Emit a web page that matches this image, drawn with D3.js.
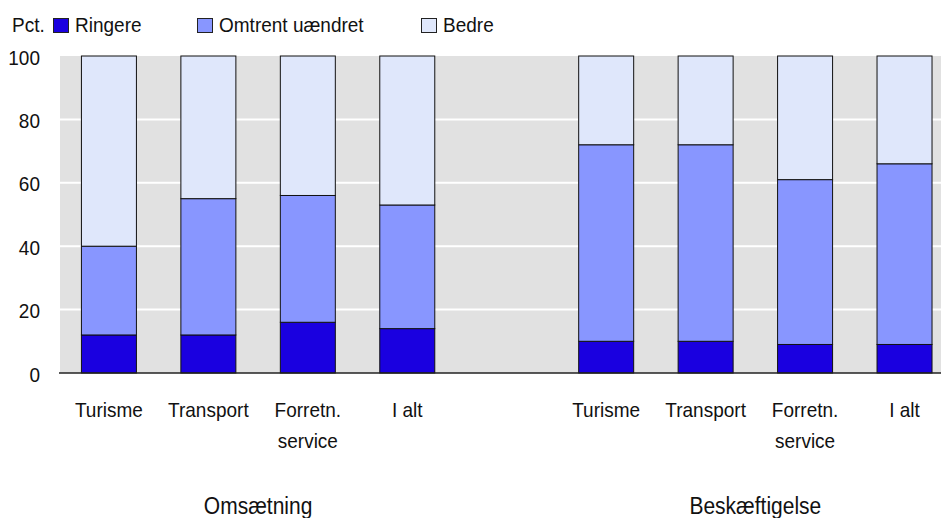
<!DOCTYPE html>
<html>
<head>
<meta charset="utf-8">
<script src="https://cdn.jsdelivr.net/npm/d3@7"></script>
<style>
  body { margin: 0; background: #fff; }
  text { font-family: "Liberation Sans", Arial, sans-serif; font-size: 19px; fill: #111; }
  .group-label { font-size: 21px; }
</style>
</head>
<body>
<div id="chart"></div>
<script>
// Chart data
var groups = ['Omsætning', 'Beskæftigelse'];
var sectors = ['Turisme', 'Transport', 'Forretn.|service', 'I alt'];
var seriesNames = ['Ringere', 'Omtrent uændret', 'Bedre'];
var ringere = [12, 12, 16, 14, 10, 10, 9, 9];
var omtrent = [28, 43, 40, 39, 62, 62, 52, 57];
var bedre = [60, 45, 44, 47, 28, 28, 39, 34];
var yTicks = [0, 20, 40, 60, 80, 100];
var unitLabel = 'Pct.';

var colors = ['#1a00e0', '#8896ff', '#dfe7fb'];

function init() {
  var w = 941;
  var h = 518;
  var left = 60;
  var right = 941;
  var top = 56;
  var bottom = 373;
  var stretch = 1.1; // text in the reference is a little taller than wide

  var svg = d3
    .select('#chart')
    .append('svg')
    .attr('width', w)
    .attr('height', h);

  // Build slots: 4 sectors, a gap, 4 sectors
  var slots = [];
  groups.forEach((g, gi) => {
    if (gi > 0) slots.push({ key: 'gap' + gi, label: '', gi: -1 });
    sectors.forEach((s, si) => {
      slots.push({ key: g + '-' + si, label: s, gi: gi, idx: gi * sectors.length + si });
    });
  });

  // Stacked rows
  var rows = slots
    .filter((d) => d.gi >= 0)
    .map((d) => ({ key: d.key, r: ringere[d.idx], o: omtrent[d.idx], b: bedre[d.idx] }));
  var stack = d3.stack().keys(['r', 'o', 'b']);
  var stacked = stack(rows);

  // Scales
  var step = 99.45;
  var x = d3
    .scaleBand()
    .domain(slots.map((d) => d.key))
    .range([59.2, 59.2 + step * slots.length])
    .paddingInner(0.447)
    .paddingOuter(0.2235);

  var y = d3.scaleLinear().domain([0, 100]).range([bottom, top]);

  // Plot background
  svg
    .append('rect')
    .attr('x', left)
    .attr('y', top)
    .attr('width', right - left)
    .attr('height', bottom - top)
    .attr('fill', '#e1e1e1');

  // Gridlines
  svg
    .append('g')
    .selectAll('line')
    .data(yTicks.filter((t) => t > 0 && t < 100))
    .enter()
    .append('line')
    .attr('x1', left)
    .attr('x2', right)
    .attr('y1', (d) => y(d))
    .attr('y2', (d) => y(d))
    .attr('stroke', '#fff')
    .attr('stroke-width', 2);

  // Bars
  svg
    .append('g')
    .selectAll('g')
    .data(stacked)
    .enter()
    .append('g')
    .attr('fill', (d, i) => colors[i])
    .selectAll('rect')
    .data((d) => d)
    .enter()
    .append('rect')
    .attr('x', (d) => x(d.data.key))
    .attr('width', x.bandwidth())
    .attr('y', (d) => y(d[1]))
    .attr('height', (d) => y(d[0]) - y(d[1]))
    .attr('stroke', '#111')
    .attr('stroke-width', 1);

  // Bottom axis line
  svg
    .append('line')
    .attr('x1', left - 1)
    .attr('x2', right)
    .attr('y1', bottom)
    .attr('y2', bottom)
    .attr('stroke', '#222')
    .attr('stroke-width', 1.5);

  // Y axis
  var yAxis = d3.axisLeft(y).tickValues(yTicks).tickSize(0).tickPadding(20);
  var yg = svg.append('g').attr('transform', `translate(${left}, 0)`).call(yAxis);
  yg.select('.domain').remove();
  yg.selectAll('text')
    .attr('font-size', null)
    .attr('font-family', null)
    .attr('fill', null)
    .attr('dy', null)
    .attr('y', 7.4)
    .attr('transform', `scale(1, ${stretch})`);

  // X axis (category labels)
  var xAxis = d3.axisBottom(x).tickSize(0).tickFormat((k) => {
    var s = slots.find((d) => d.key === k);
    return s ? s.label : '';
  });
  var xg = svg.append('g').attr('transform', `translate(0, ${bottom})`).call(xAxis);
  xg.select('.domain').remove();
  xg.selectAll('text').each(function (k) {
    var t = d3.select(this);
    var parts = t.text().split('|');
    t.text(null)
      .attr('font-size', null)
      .attr('font-family', null)
      .attr('fill', null)
      .attr('dy', null)
      .attr('y', 44 / stretch)
      .attr('transform', `scale(1, ${stretch})`);
    parts.forEach((p, i) => {
      t.append('tspan')
        .attr('x', 0)
        .attr('dy', i === 0 ? 0 : 31 / stretch)
        .text(p);
    });
  });

  // Group labels
  groups.forEach((g, gi) => {
    var keys = slots.filter((d) => d.gi === gi).map((d) => x(d.key) + x.bandwidth() / 2);
    var cx = (d3.min(keys) + d3.max(keys)) / 2;
    svg
      .append('text')
      .attr('class', 'group-label')
      .attr('text-anchor', 'middle')
      .attr('transform', `translate(${cx}, 514) scale(1, ${stretch})`)
      .text(g);
  });

  // Legend
  svg
    .append('text')
    .attr('transform', `translate(12, 32) scale(1, ${stretch})`)
    .text(unitLabel);

  var legendX = [53, 197, 421];
  seriesNames.forEach((name, i) => {
    var lg = svg.append('g').attr('transform', `translate(${legendX[i]}, 0)`);
    lg.append('rect')
      .attr('x', 0.5)
      .attr('y', 18.5)
      .attr('width', 15)
      .attr('height', 14)
      .attr('fill', colors[i])
      .attr('stroke', '#222')
      .attr('stroke-width', 1);
    lg.append('text')
      .attr('transform', `translate(22, 32) scale(1, ${stretch})`)
      .text(name);
  });
}

window.onload = init;
</script>
</body>
</html>
